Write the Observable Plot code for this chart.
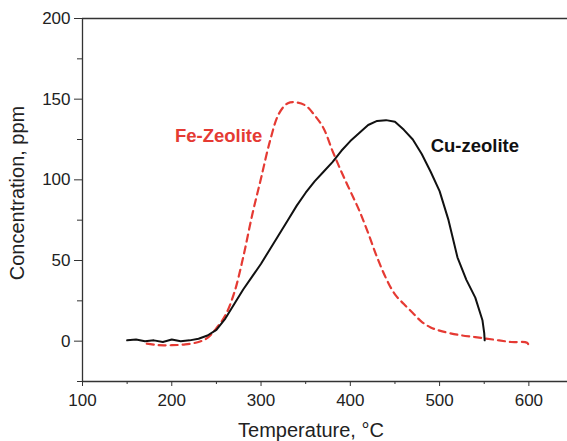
<!DOCTYPE html>
<html>
<head>
<meta charset="utf-8">
<script src="https://cdn.jsdelivr.net/npm/d3@7"></script>
<script src="https://cdn.jsdelivr.net/npm/@observablehq/plot@0.6"></script>
<style>
  html, body { margin: 0; padding: 0; background: #fff; }
  #chart { width: 567px; height: 441px; }
</style>
</head>
<body>
<div id="chart"></div>
<script>
// Cu-zeolite (solid black)
const cuTemp = [150,160,170,180,190,200,210,220,230,240,250,260,270,280,290,300,310,320,330,340,350,360,370,380,390,400,410,420,430,440,450,460,470,480,490,500,510,520,530,540,548,550,550.5];
const cuConc = [0.5,1,0,0.5,-0.5,1,0,0.5,1.5,3.5,7,14,23,32,40,48,57,66,75,84,92,99,105,111,118,124,129,134,136.5,137,136,131,125,116,105,93,75,52,38,27,13,5,0.5];

// Fe-Zeolite (dashed red)
const feTemp = [172,185,200,215,230,240,250,260,270,280,290,300,310,320,330,340,350,360,370,380,390,400,410,420,430,440,450,460,470,480,490,500,520,540,560,580,598,600];
const feConc = [-1.5,-2.5,-2.5,-2,-0.5,2,8,16,30,52,78,101,124,141,147.5,148,146,140,132,118,105,93,81,67,52,39,29,23,17.5,12,8.5,6.5,4,2.5,1,-0.5,-1,-3];

const labelNames = ["Fe-Zeolite", "Cu-zeolite"];
const labelTemp = [252.5, 539.5];
const labelConc = [127, 121];
const labelColors = ["#e53a33", "#111111"];

const xMajor = [100,200,300,400,500,600];
const xMinor = [150,250,350,450,550];
const yMajor = [0,50,100,150,200];
const yMinor = [-25,25,75,125,175];

const cu = cuTemp.map((t, i) => ({t, c: cuConc[i]}));
const fe = feTemp.map((t, i) => ({t, c: feConc[i]}));
const labels = labelNames.map((n, i) => ({n, t: labelTemp[i], c: labelConc[i], col: labelColors[i]}));

const FONT = "Liberation Sans, Arial, Helvetica, sans-serif";

const chart = Plot.plot({
  width: 567,
  height: 441,
  marginTop: 18,
  marginBottom: 60,
  marginLeft: 82,
  marginRight: 0,
  style: {fontFamily: FONT, background: "#fff", color: "#222"},
  x: {domain: [100, 650], range: [82, 573]},
  y: {domain: [-25, 200], range: [381, 18]},
  marks: [
    Plot.ruleY([200], {stroke: "#333", strokeWidth: 1.3}),
    Plot.ruleY([-25], {stroke: "#333", strokeWidth: 1.3}),
    Plot.ruleX([100], {stroke: "#333", strokeWidth: 1.3}),
    Plot.axisX({ticks: xMajor, tickSize: 5, tickPadding: 7, fontSize: 17, label: null, stroke: "#333", tickFormat: d => String(d)}),
    Plot.axisX({ticks: xMinor, tickSize: 3, text: null, label: null, stroke: "#333"}),
    Plot.axisY({ticks: yMajor, tickSize: 8, tickPadding: 4, fontSize: 17, label: null, stroke: "#333", tickFormat: d => String(d)}),
    Plot.axisY({ticks: yMinor, tickSize: 5, text: null, label: null, stroke: "#333"}),
    Plot.line(fe, {x: "t", y: "c", stroke: "#e53a33", strokeWidth: 2.2, strokeDasharray: "7,5", curve: "catmull-rom"}),
    Plot.line(cu, {x: "t", y: "c", stroke: "#111", strokeWidth: 2, curve: "linear"}),
    Plot.text(labels, {x: "t", y: "c", text: "n", fill: "col", fontSize: 18.5, fontWeight: "bold", textAnchor: "middle"})
  ]
});

// axis titles as real text added to the svg
const svg = d3.select(chart);
svg.append("text")
  .attr("x", 311).attr("y", 437)
  .attr("text-anchor", "middle")
  .attr("font-family", FONT).attr("font-size", 20).attr("fill", "#222")
  .text("Temperature, °C");
svg.append("text")
  .attr("transform", "translate(24,193) rotate(-90)")
  .attr("text-anchor", "middle")
  .attr("font-family", FONT).attr("font-size", 20).attr("fill", "#222")
  .text("Concentration, ppm");

document.getElementById("chart").appendChild(chart);
</script>
</body>
</html>
